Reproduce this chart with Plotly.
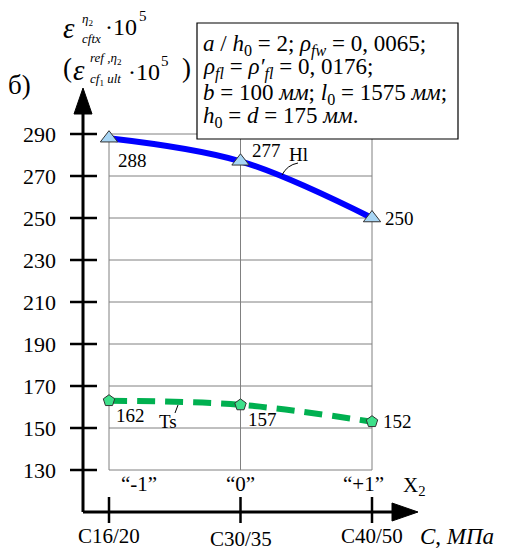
import plotly.graph_objects as go

# ---------------- data ----------------
categories = ["C16/20", "C30/35", "C40/50"]
x2_labels = ["“-1”", "“0”", "“+1”"]
y_ticks = [130, 150, 170, 190, 210, 230, 250, 270, 290]
h1_values = [288, 277, 250]
h1_labels = ["288", "277", "250"]
ts_values = [163, 161, 153]
ts_labels = ["162", "157", "152"]

# ---------------- geometry helpers ----------------
W, H = 514, 552
X0PX, X2PX = 109, 372          # pixel positions of first/last category
Y290PX, Y130PX = 134, 470      # pixel positions of 290 / 130
xs = (X2PX - X0PX) / 2.0
ys = (Y130PX - Y290PX) / 160.0
xr = [-X0PX / xs, (W - X0PX) / xs]
yr = [290 - (H - Y290PX) / ys, 290 + Y290PX / ys]


def PX(px):
    return xr[0] + px / W * (xr[1] - xr[0])


def PY(py):
    return yr[1] - py / H * (yr[1] - yr[0])


FONT = "Liberation Serif, Times New Roman, serif"
xi = list(range(len(categories)))

fig = go.Figure()

# lines + markers
fig.add_trace(go.Scatter(
    x=xi, y=h1_values, mode="lines", line=dict(color="#0000ff", width=6, shape="spline"),
    hoverinfo="skip", showlegend=False))
fig.add_trace(go.Scatter(
    x=xi, y=h1_values, mode="markers",
    marker=dict(symbol="triangle-up", size=15, color="#a8d6f5", line=dict(color="#333333", width=1)),
    showlegend=False))
fig.add_trace(go.Scatter(
    x=xi, y=ts_values, mode="lines",
    line=dict(color="#00b050", width=6, shape="spline", dash="18px,10px"),
    hoverinfo="skip", showlegend=False))
fig.add_trace(go.Scatter(
    x=xi, y=ts_values, mode="markers",
    marker=dict(symbol="pentagon", size=12, color="#3ee08a", line=dict(color="#333333", width=1)),
    showlegend=False))

shapes = []
# horizontal grid lines
for v in y_ticks:
    shapes.append(dict(type="line", x0=0, x1=2, y0=v, y1=v, line=dict(color="#808080", width=1), layer="below"))
# vertical grid lines
for i in xi:
    shapes.append(dict(type="line", x0=i, x1=i, y0=y_ticks[0], y1=y_ticks[-1],
                       line=dict(color="#808080", width=1), layer="below"))

ax_x = PX(83)
ax_y = PY(512)
# y axis line and arrow
shapes.append(dict(type="line", x0=ax_x, x1=ax_x, y0=ax_y, y1=PY(110), line=dict(color="black", width=3)))
shapes.append(dict(type="path",
                   path=f"M {PX(74)} {PY(114)} L {PX(92)} {PY(114)} L {PX(83)} {PY(88)} Z",
                   fillcolor="black", line=dict(color="black", width=1)))
# x axis line and arrow
shapes.append(dict(type="line", x0=ax_x, x1=PX(395), y0=ax_y, y1=ax_y, line=dict(color="black", width=3)))
shapes.append(dict(type="path",
                   path=f"M {PX(392)} {PY(503)} L {PX(392)} {PY(521)} L {PX(418)} {PY(512)} Z",
                   fillcolor="black", line=dict(color="black", width=1)))
# y ticks
for v in y_ticks:
    shapes.append(dict(type="line", x0=PX(70), x1=PX(97), y0=v, y1=v, line=dict(color="black", width=2.5)))
# x ticks
for i in xi:
    shapes.append(dict(type="line", x0=i, x1=i, y0=PY(497), y1=PY(523), line=dict(color="black", width=2.5)))
# leader lines for series names
shapes.append(dict(type="path", path=f"M {PX(282)} {PY(175)} Q {PX(287)} {PY(165)} {PX(298)} {PY(163)}",
                   line=dict(color="black", width=1)))
shapes.append(dict(type="line", x0=PX(175), x1=PX(178), y0=PY(413), y1=PY(405), line=dict(color="black", width=1)))
# parameter box
shapes.append(dict(type="rect", x0=PX(197), x1=PX(458), y0=PY(23), y1=PY(139),
                   fillcolor="white", line=dict(color="black", width=1.2), layer="above"))

ann = []


def A(text, px, py, size, xanchor="left", yanchor="middle", **kw):
    ann.append(dict(text=text, x=PX(px), y=PY(py), xref="x", yref="y", showarrow=False,
                    xanchor=xanchor, yanchor=yanchor, font=dict(family=FONT, size=size, color="black"), **kw))


# y tick labels
for v in y_ticks:
    ann.append(dict(text=str(v), x=PX(58), y=v, xref="x", yref="y", showarrow=False,
                    xanchor="right", yanchor="middle", font=dict(family=FONT, size=22, color="black")))
# category labels
cat_py = [536, 539, 536]
for i, c in enumerate(categories):
    ann.append(dict(text=c, x=i, y=PY(cat_py[i]), xref="x", yref="y", showarrow=False,
                    xanchor="center", yanchor="middle", font=dict(family=FONT, size=21, color="black")))
# X2 labels
for i, c in enumerate(x2_labels):
    ann.append(dict(text=c, x=i, y=PY(484), xref="x", yref="y", showarrow=False, xshift=[30, 0, -9][i],
                    xanchor="center", yanchor="middle", font=dict(family=FONT, size=21, color="black")))
A("X<sub>2</sub>", 401, 486, 21)
A("<i>C</i>, <i>МПа</i>", 418, 536, 23)

# value labels
h1_shift = [(7, -22), (9, 11), (11, 0)]
for i, t in enumerate(h1_labels):
    ann.append(dict(text=t, x=i, y=h1_values[i], xref="x", yref="y", showarrow=False,
                    xanchor="left", yanchor="middle", xshift=h1_shift[i][0], yshift=h1_shift[i][1],
                    font=dict(family=FONT, size=19, color="black")))
ts_shift = [(5, -15), (5, -15), (9, 0)]
for i, t in enumerate(ts_labels):
    ann.append(dict(text=t, x=i, y=ts_values[i], xref="x", yref="y", showarrow=False,
                    xanchor="left", yanchor="middle", xshift=ts_shift[i][0], yshift=ts_shift[i][1],
                    font=dict(family=FONT, size=19, color="black")))
A("Hl", 287, 154, 19)
A("Ts", 157, 421, 19)

# "б)"
A("б)", 6, 85, 27)
# title line 1
A("<i>ε</i>", 61, 28, 29)
A("<i>η</i><sub>2</sub>", 80, 19, 13)
A("<i>cftx</i>", 80, 38, 13)
A("·10", 103, 27, 24)
A("5", 137, 16, 15)
# title line 2
A("(", 61, 68, 27)
A("<i>ε</i>", 71, 70, 29)
A("<i>ref ,η</i><sub>2</sub>", 88, 58, 13)
A("<i>cf</i><sub>1</sub> <i>ult</i>", 88, 79, 13)
A("·10", 126, 72, 24)
A("5", 159, 61, 15)
A(")", 180, 68, 27)

# parameter box text
BOX = 23
A("<i>a</i> / <i>h</i><sub>0</sub> = 2; <i>ρ</i><sub><i>fw</i></sub> = 0, 0065;", 201, 45, BOX)
A("<i>ρ</i><sub><i>fl</i></sub> = <i>ρ′</i><sub><i>fl</i></sub> = 0, 0176;", 201, 68, BOX)
A("<i>b</i> = 100 <i>мм</i>; <i>l</i><sub>0</sub> = 1575 <i>мм</i>;", 201, 94, BOX)
A("<i>h</i><sub>0</sub> = <i>d</i> = 175 <i>мм</i>.", 201, 117, BOX)

fig.update_layout(
    width=W, height=H, autosize=False,
    margin=dict(l=0, r=0, t=0, b=0),
    paper_bgcolor="white", plot_bgcolor="white",
    xaxis=dict(range=xr, visible=False, fixedrange=True),
    yaxis=dict(range=yr, visible=False, fixedrange=True),
    shapes=shapes, annotations=ann, showlegend=False,
)

fig.write_html("out.html", config={"displayModeBar": False},
               post_script="document.body.style.margin='0';document.body.style.overflow='hidden';")
